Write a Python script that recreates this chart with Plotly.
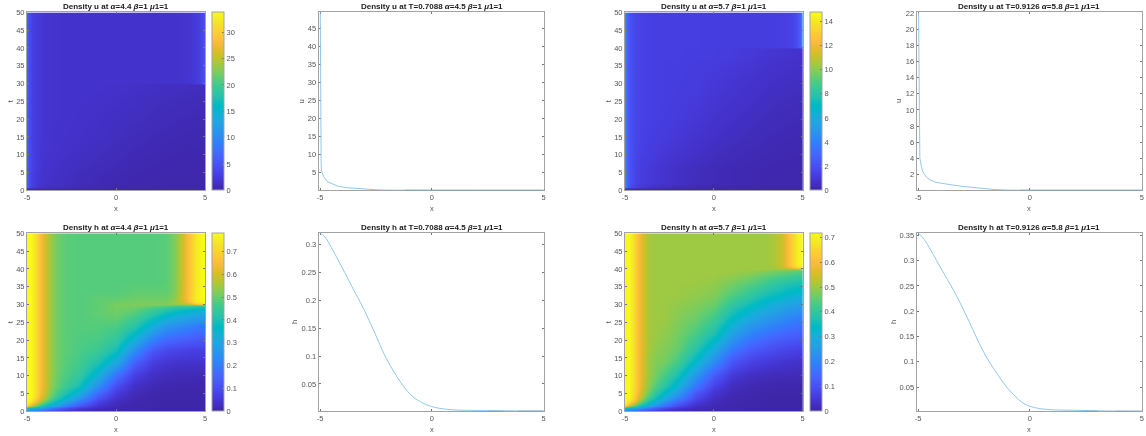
import plotly.graph_objects as go

W, H = 1146, 436

parula = [[0.2422,0.1504,0.6603],[0.2504,0.1650,0.7076],[0.2578,0.1818,0.7511],[0.2647,0.1978,0.7952],[0.2706,0.2147,0.8364],[0.2751,0.2342,0.8710],[0.2783,0.2559,0.8991],[0.2803,0.2782,0.9221],[0.2813,0.3006,0.9414],[0.2810,0.3228,0.9579],[0.2795,0.3447,0.9717],[0.2760,0.3667,0.9829],[0.2699,0.3892,0.9906],[0.2602,0.4123,0.9952],[0.2440,0.4358,0.9988],[0.2206,0.4603,0.9973],[0.1963,0.4847,0.9892],[0.1834,0.5074,0.9798],[0.1786,0.5289,0.9682],[0.1764,0.5499,0.9520],[0.1687,0.5703,0.9359],[0.1540,0.5902,0.9218],[0.1460,0.6091,0.9079],[0.1380,0.6276,0.8973],[0.1248,0.6459,0.8883],[0.1113,0.6635,0.8763],[0.0952,0.6798,0.8598],[0.0689,0.6948,0.8394],[0.0297,0.7082,0.8163],[0.0036,0.7203,0.7917],[0.0067,0.7312,0.7660],[0.0433,0.7411,0.7394],[0.0964,0.7500,0.7120],[0.1408,0.7584,0.6842],[0.1717,0.7670,0.6554],[0.1938,0.7758,0.6251],[0.2161,0.7843,0.5923],[0.2470,0.7918,0.5567],[0.2906,0.7973,0.5188],[0.3406,0.8008,0.4789],[0.3909,0.8029,0.4354],[0.4456,0.8024,0.3909],[0.5044,0.7993,0.3480],[0.5616,0.7942,0.3045],[0.6174,0.7876,0.2612],[0.6720,0.7793,0.2227],[0.7242,0.7698,0.1910],[0.7738,0.7598,0.1646],[0.8203,0.7498,0.1535],[0.8634,0.7406,0.1596],[0.9035,0.7330,0.1774],[0.9393,0.7288,0.2100],[0.9728,0.7298,0.2394],[0.9956,0.7434,0.2371],[0.9970,0.7659,0.2199],[0.9952,0.7893,0.2028],[0.9892,0.8136,0.1885],[0.9786,0.8386,0.1766],[0.9676,0.8639,0.1643],[0.9610,0.8890,0.1537],[0.9597,0.9135,0.1423],[0.9628,0.9373,0.1265],[0.9691,0.9606,0.1064],[0.9769,0.9839,0.0805]]
colorscale = [[i / (len(parula) - 1), f"rgb({c[0]*255:.0f},{c[1]*255:.0f},{c[2]*255:.0f})"] for i, c in enumerate(parula)]

# ---------- density u maps ----------
u_x = [-5,-4.93,-4.83,-4.68,-4.45,-4.1,-3.6,-3,-2.1,-1,0,1,2.1,3,3.6,4.1,4.45,4.68,4.83,4.93,5]

u1_t = [0,.25,.45,.65,.85,1.2,2,3.5,6,10,15,20,25,28,29.2,29.7,29.9,30.1,30.3,30.7,31.5,33,36,50]
u1_bottom = [.7,.65,.55,.5,.45,.4,.35,.3,.25,.2,.15,.1,.1,.1,.1,.1,.1,.1,.1,.1,.1]
u1_r1 = [6,5,3.6,2.6,2.0,1.5,1.2,1.0,.7,.5,.35,.25,.2,.18,.15,.15,.15,.15,.15,.15,.15]
u1_r3 = [6,5,3.7,2.7,2.1,1.7,1.4,1.2,.85,.6,.42,.3,.24,.2,.2,.2,.2,.2,.2,.2,.2]
u1_r6 = [6,5,3.8,2.9,2.3,1.8,1.5,1.3,1,.75,.55,.4,.3,.25,.25,.25,.25,.25,.25,.25,.25]
u1_r10 = [6,5,3.8,2.9,2.4,1.9,1.7,1.5,1.25,1,.8,.55,.45,.35,.32,.3,.3,.3,.3,.3,.3]
u1_r15 = [6,5,3.8,2.9,2.4,2.0,1.75,1.6,1.45,1.25,1.05,.8,.6,.5,.45,.42,.4,.4,.4,.4,.4]
u1_r20 = [6,5,3.8,2.9,2.4,2.0,1.8,1.7,1.55,1.4,1.2,1.05,.85,.7,.62,.58,.55,.55,.55,.55,.55]
u1_r25 = [6,5,3.8,2.9,2.4,2.0,1.8,1.7,1.6,1.5,1.4,1.25,1.05,.9,.82,.78,.75,.75,.75,.75,.75]
u1_r29 = [6,5,3.8,2.9,2.4,2.0,1.8,1.7,1.65,1.6,1.5,1.4,1.25,1.1,1.05,1,.95,.95,.95,.95,.95]
u1_top = [6,5,3.8,2.9,2.4,2.0,1.8,1.7,1.65,1.65,1.65,1.65,1.65,1.7,1.75,1.95,2.3,2.9,3.7,4.6,5.2]
u1_z = [u1_bottom,u1_bottom,u1_bottom,u1_r1,u1_r1,u1_r1,u1_r3,u1_r3,u1_r6,u1_r10,u1_r15,u1_r20,u1_r25,u1_r29,u1_r29,u1_r29,u1_r29,
        u1_top,u1_top,u1_top,u1_top,u1_top,u1_top,u1_top]

u3_t = [0,.25,.45,.65,.85,1.2,2,3.5,6,10,15,20,25,30,35,38,39.2,39.7,39.9,40.1,40.3,40.7,41.5,43,46,50]
u3_bottom = [.3,.28,.25,.22,.2,.17,.14,.12,.1,.08,.06,.05,.05,.05,.05,.05,.05,.05,.05,.05,.05]
u3_r1 = [4.8,3.4,2.4,1.7,1.3,1.0,.75,.55,.35,.25,.16,.12,.1,.08,.08,.08,.08,.08,.08,.08,.08]
u3_r5 = [4.8,3.4,2.5,1.9,1.5,1.2,1,.85,.6,.42,.28,.2,.16,.13,.12,.12,.12,.12,.12,.12,.12]
u3_r10 = [4.8,3.4,2.5,1.9,1.6,1.3,1.15,1.0,.85,.62,.45,.32,.24,.2,.17,.16,.15,.15,.15,.15,.15]
u3_r15 = [4.8,3.4,2.5,1.9,1.6,1.4,1.2,1.1,.98,.8,.62,.48,.36,.28,.24,.22,.2,.2,.2,.2,.2]
u3_r20 = [4.8,3.4,2.5,1.9,1.6,1.4,1.3,1.2,1.08,.95,.78,.62,.48,.38,.33,.3,.28,.28,.28,.28,.28]
u3_r25 = [4.8,3.4,2.5,1.9,1.6,1.4,1.3,1.25,1.15,1.05,.9,.76,.62,.5,.44,.4,.38,.38,.38,.38,.38]
u3_r30 = [4.8,3.4,2.5,1.9,1.6,1.4,1.3,1.25,1.2,1.12,1,.88,.74,.62,.56,.52,.5,.5,.5,.5,.5]
u3_r35 = [4.8,3.4,2.5,1.9,1.6,1.4,1.3,1.25,1.2,1.18,1.1,1,.9,.78,.7,.66,.62,.62,.62,.62,.62]
u3_r39 = [4.8,3.4,2.5,1.9,1.6,1.4,1.3,1.25,1.25,1.22,1.2,1.1,1,.9,.85,.8,.75,.72,.72,.72,.72]
u3_top = [4.8,3.4,2.5,1.9,1.6,1.4,1.3,1.25,1.25,1.25,1.2,1.2,1.2,1.2,1.25,1.35,1.5,1.9,2.6,3.8,5.6]
u3_z = [u3_bottom,u3_bottom,u3_bottom,u3_r1,u3_r1,u3_r1,u3_r5,u3_r5,u3_r5,u3_r10,u3_r15,u3_r20,u3_r25,u3_r30,u3_r35,u3_r39,u3_r39,u3_r39,u3_r39,
        u3_top,u3_top,u3_top,u3_top,u3_top,u3_top,u3_top]

# ---------- density h maps ----------
h_x = [-5,-4.75,-4.5,-4.25,-4,-3.7,-3.3,-2.8,-2.1,-1,0,1,2.1,2.8,3.3,3.7,4,4.25,4.5,4.75,5]

h1_t = [0,.25,.5,.75,1,1.5,2,2.75,3.75,5,7,10,13.5,17,20.5,24,27,28.8,29.6,29.9,30.1,30.4,31,32,34,37,50]
h1_z = [
 [.20,.18,.16,.14,.12,.09,.065,.04,.02,.008,.003,.001,.001,.001,.001,.001,.001,.001,.001,.001,.001],
 [.25,.23,.20,.18,.15,.12,.09,.06,.03,.01,.004,.002,.001,.001,.001,.001,.001,.001,.001,.001,.001],
 [.30,.28,.25,.23,.20,.16,.12,.08,.04,.012,.005,.002,.001,.001,.001,.001,.001,.001,.001,.001,.001],
 [.37,.34,.31,.28,.25,.20,.15,.10,.055,.018,.007,.003,.001,.001,.001,.001,.001,.001,.001,.001,.001],
 [.45,.41,.38,.34,.30,.24,.19,.13,.07,.025,.009,.003,.002,.001,.001,.001,.001,.001,.001,.001,.001],
 [.65,.55,.47,.41,.37,.32,.26,.19,.11,.04,.013,.004,.002,.001,.001,.001,.001,.001,.001,.001,.001],
 [.75,.66,.56,.48,.42,.37,.31,.24,.15,.055,.017,.005,.002,.001,.001,.001,.001,.001,.001,.001,.001],
 [.779,.74,.65,.57,.50,.44,.37,.30,.20,.08,.025,.007,.003,.001,.001,.001,.001,.001,.001,.001,.001],
 [.779,.77,.70,.62,.55,.49,.42,.35,.26,.11,.04,.011,.004,.002,.002,.002,.002,.002,.002,.002,.002],
 [.779,.775,.72,.645,.58,.52,.46,.40,.32,.16,.06,.018,.006,.003,.002,.002,.002,.002,.002,.002,.002],
 [.779,.775,.72,.655,.595,.54,.49,.45,.39,.24,.10,.03,.012,.008,.007,.006,.006,.005,.005,.005,.005],
 [.779,.775,.72,.655,.595,.545,.50,.47,.44,.33,.18,.07,.03,.02,.017,.016,.015,.015,.015,.015,.015],
 [.779,.775,.72,.655,.595,.545,.505,.48,.46,.40,.30,.14,.06,.045,.04,.038,.036,.035,.035,.035,.035],
 [.779,.775,.72,.655,.595,.545,.505,.485,.47,.45,.39,.24,.12,.09,.08,.075,.072,.07,.07,.07,.07],
 [.779,.775,.72,.655,.595,.545,.505,.485,.475,.47,.44,.34,.22,.17,.16,.15,.145,.14,.135,.13,.13],
 [.779,.775,.72,.655,.595,.545,.505,.485,.48,.48,.47,.42,.32,.26,.24,.225,.215,.205,.20,.195,.19],
 [.779,.775,.72,.655,.595,.545,.505,.485,.48,.49,.50,.47,.41,.36,.34,.325,.315,.305,.30,.295,.29],
 [.779,.775,.72,.655,.595,.545,.505,.485,.48,.49,.51,.50,.46,.43,.41,.40,.39,.385,.38,.375,.37],
 [.779,.775,.72,.655,.595,.545,.505,.485,.48,.49,.51,.51,.49,.47,.45,.44,.435,.43,.425,.42,.42],
 [.779,.775,.72,.655,.595,.545,.505,.485,.48,.49,.51,.51,.50,.49,.48,.48,.48,.47,.47,.47,.47],
 [.779,.775,.72,.655,.595,.545,.505,.485,.48,.49,.51,.52,.52,.52,.53,.54,.55,.58,.62,.66,.68],
 [.779,.775,.72,.655,.595,.545,.505,.485,.48,.49,.51,.51,.52,.52,.54,.57,.60,.65,.70,.73,.74],
 [.779,.775,.72,.655,.595,.545,.505,.485,.48,.49,.50,.51,.51,.51,.54,.59,.64,.70,.745,.765,.775],
 [.779,.775,.72,.655,.595,.545,.505,.485,.48,.49,.49,.50,.50,.50,.53,.60,.65,.71,.75,.77,.779],
 [.779,.775,.72,.655,.595,.545,.505,.485,.48,.48,.48,.49,.49,.49,.52,.59,.65,.70,.75,.77,.779],
 [.779,.775,.72,.655,.595,.545,.505,.485,.48,.48,.48,.48,.48,.485,.52,.585,.645,.695,.745,.77,.779],
 [.779,.775,.72,.655,.595,.545,.505,.485,.48,.48,.48,.48,.48,.485,.52,.585,.645,.695,.745,.77,.779],
]

h3_t = [0,.25,.5,.75,1,1.5,2,2.75,3.75,5,7,10,14,18,22,26,30,33,36,38,39.3,39.7,39.9,40.1,40.4,41,42,44,50]
h3_z = [
 [.18,.16,.14,.12,.10,.075,.05,.03,.015,.005,.002,.001,.001,.001,.001,.001,.001,.001,.001,.001,.001],
 [.22,.20,.17,.15,.13,.10,.07,.045,.022,.007,.003,.002,.001,.001,.001,.001,.001,.001,.001,.001,.001],
 [.26,.24,.21,.18,.16,.13,.095,.06,.03,.01,.004,.002,.001,.001,.001,.001,.001,.001,.001,.001,.001],
 [.32,.29,.26,.23,.20,.16,.12,.08,.04,.014,.005,.002,.001,.001,.001,.001,.001,.001,.001,.001,.001],
 [.40,.36,.32,.29,.25,.20,.15,.10,.05,.018,.007,.003,.001,.001,.001,.001,.001,.001,.001,.001,.001],
 [.60,.50,.41,.36,.32,.27,.21,.15,.08,.025,.01,.004,.002,.001,.001,.001,.001,.001,.001,.001,.001],
 [.69,.60,.51,.43,.37,.32,.26,.19,.11,.04,.013,.005,.002,.001,.001,.001,.001,.001,.001,.001,.001],
 [.716,.68,.60,.51,.44,.38,.31,.24,.15,.06,.018,.006,.003,.001,.001,.001,.001,.001,.001,.001,.001],
 [.716,.70,.64,.56,.49,.42,.36,.29,.20,.08,.025,.008,.004,.002,.001,.001,.001,.001,.001,.001,.001],
 [.716,.71,.65,.585,.52,.46,.40,.33,.25,.11,.04,.012,.006,.003,.002,.002,.002,.002,.002,.002,.002],
 [.716,.71,.66,.60,.54,.49,.44,.39,.31,.17,.07,.02,.01,.007,.006,.006,.005,.005,.005,.005,.005],
 [.716,.71,.66,.60,.55,.50,.47,.43,.37,.24,.12,.05,.025,.02,.017,.016,.015,.015,.015,.015,.015],
 [.716,.71,.66,.60,.55,.50,.48,.47,.43,.33,.22,.11,.07,.055,.05,.045,.04,.04,.035,.035,.035],
 [.716,.71,.66,.60,.55,.51,.49,.48,.46,.39,.30,.19,.13,.11,.10,.09,.085,.08,.08,.075,.075],
 [.716,.71,.66,.60,.55,.51,.50,.49,.47,.43,.37,.27,.20,.175,.16,.15,.145,.14,.135,.13,.125],
 [.716,.71,.66,.60,.55,.51,.50,.50,.48,.46,.42,.34,.28,.25,.235,.22,.21,.20,.195,.19,.185],
 [.716,.71,.66,.60,.55,.51,.50,.50,.49,.48,.46,.40,.35,.32,.30,.29,.28,.27,.265,.26,.255],
 [.716,.71,.66,.60,.55,.51,.50,.50,.50,.49,.48,.44,.40,.37,.355,.345,.335,.325,.32,.315,.31],
 [.716,.71,.66,.60,.55,.51,.50,.50,.50,.50,.49,.47,.44,.42,.40,.39,.38,.375,.37,.365,.36],
 [.716,.71,.66,.60,.55,.51,.50,.50,.50,.50,.50,.49,.47,.45,.44,.43,.425,.42,.415,.41,.405],
 [.716,.71,.66,.60,.55,.51,.50,.50,.50,.50,.50,.50,.49,.48,.47,.465,.46,.455,.45,.445,.44],
 [.716,.71,.66,.60,.55,.51,.50,.50,.50,.50,.50,.50,.50,.49,.48,.48,.475,.47,.47,.465,.46],
 [.716,.71,.66,.60,.55,.51,.50,.50,.50,.50,.50,.50,.50,.50,.49,.49,.49,.485,.48,.48,.475],
 [.716,.71,.66,.60,.55,.51,.50,.50,.50,.50,.50,.50,.50,.50,.50,.51,.52,.54,.57,.60,.62],
 [.716,.71,.66,.60,.55,.51,.50,.50,.50,.50,.50,.50,.50,.50,.50,.52,.55,.58,.62,.66,.68],
 [.716,.71,.66,.60,.55,.51,.50,.50,.50,.50,.50,.50,.50,.50,.51,.53,.57,.61,.66,.69,.705],
 [.716,.71,.66,.60,.55,.51,.50,.50,.50,.50,.50,.50,.50,.50,.51,.53,.57,.61,.66,.70,.716],
 [.716,.71,.66,.60,.55,.51,.50,.50,.50,.50,.50,.50,.50,.50,.51,.53,.57,.61,.66,.70,.716],
 [.716,.71,.66,.60,.55,.51,.50,.50,.50,.50,.50,.50,.50,.50,.51,.53,.57,.61,.66,.70,.716],
]

# ---------- profiles ----------
u2_x = [-5,-4.985,-4.97,-4.95,-4.93,-4.85,-4.66,-4.4,-4.18,-3.8,-3.36,-3,-2.5,-2,-1.5,-1,0,2,5]
u2_y = [60,30,15,7,5.5,4,2.5,1.7,1.2,.85,.6,.45,.28,.18,.14,.125,.12,.12,.12]
u2_tail_x = [-1.2,5]
u2_tail_y = [.12,.12]

h2_x = [-5,-4.9,-4.8,-4.65,-4.5,-4.2,-3.9,-3.5,-3.18,-2.9,-2.6,-2.35,-2.09,-1.7,-1.34,-1,-.75,-.5,-.25,0,.25,.5,1,2,3,5]
h2_y = [.32,.318,.314,.306,.295,.273,.25,.219,.195,.172,.146,.123,.1,.072,.05,.033,.024,.018,.013,.0095,.007,.0055,.0035,.0025,.002,.0015]
h2_tail_x = [2.46,3.2,None,3.9,5]
h2_tail_y = [.001,.001,None,.001,.001]

u4_x = [-5,-4.985,-4.96,-4.94,-4.92,-4.85,-4.8,-4.7,-4.5,-4.2,-4,-3.5,-3,-2.5,-2,-1.5,-1,0,5]
u4_y = [30,23,15,8,4,3,2.4,1.9,1.35,1,.9,.7,.5,.35,.2,.1,.05,.02,.02]
u4_tail_x = [-.43,5]
u4_tail_y = [.02,.02]

h4_x = [-5,-4.9,-4.8,-4.65,-4.5,-4.17,-3.85,-3.52,-3.25,-2.97,-2.7,-2.41,-2.1,-1.79,-1.4,-1.04,-.75,-.5,-.25,0,.25,.5,1,2,3,5]
h4_y = [.354,.351,.346,.337,.326,.3,.275,.25,.228,.203,.178,.15,.122,.098,.072,.05,.036,.025,.017,.012,.009,.007,.005,.004,.003,.002]
h4_tail_x = [2.4,3.07,None,3.85,5]
h4_tail_y = [.002,.002,None,.002,.002]

titles = [
 "Density u at <i>α</i>=4.4 <i>β</i>=1 <i>μ</i>1=1",
 "Density u at T=0.7088 <i>α</i>=4.5 <i>β</i>=1 <i>μ</i>1=1",
 "Density u at <i>α</i>=5.7 <i>β</i>=1 <i>μ</i>1=1",
 "Density u at T=0.9126 <i>α</i>=5.8 <i>β</i>=1 <i>μ</i>1=1",
 "Density h at <i>α</i>=4.4 <i>β</i>=1 <i>μ</i>1=1",
 "Density h at T=0.7088 <i>α</i>=4.5 <i>β</i>=1 <i>μ</i>1=1",
 "Density h at <i>α</i>=5.7 <i>β</i>=1 <i>μ</i>1=1",
 "Density h at T=0.9126 <i>α</i>=5.8 <i>β</i>=1 <i>μ</i>1=1",
]

TXT = "#555555"
FRAME = "#a3a3a3"
FONT = "Liberation Sans"

top = (12.4, 190.3)
bot = (233.3, 411.3)
boxes = [
 (27, 205, top), (318.7, 544.3, top), (625, 802.7, top), (916.7, 1142, top),
 (27, 205, bot), (318.7, 544.3, bot), (625, 802.7, bot), (916.7, 1142, bot),
]

fig = go.Figure()
layout = dict(width=W, height=H, margin=dict(l=0, r=0, t=0, b=0, autoexpand=False),
              paper_bgcolor="white", plot_bgcolor="white", showlegend=False,
              font=dict(family=FONT, size=8, color=TXT))
annotations = []

heat = {
 0: (u_x, u1_t, u1_z, 33.75, [0,5,10,15,20,25,30], 212),
 2: (u_x, u3_t, u3_z, 14.75, [0,2,4,6,8,10,12,14], 810),
 4: (h_x, h1_t, h1_z, 0.779, [0,.1,.2,.3,.4,.5,.6,.7], 212),
 6: (h_x, h3_t, h3_z, 0.716, [0,.1,.2,.3,.4,.5,.6,.7], 810),
}
lines = {
 1: (u2_x, u2_y, [0.12, 49.5], [5,10,15,20,25,30,35,40,45], [-5.06, 5.036], "u", "linear", u2_tail_x, u2_tail_y),
 3: (u4_x, u4_y, [0.02, 22.1], [2,4,6,8,10,12,14,16,18,20,22], [-5.06, 5.013], "u", "linear", u4_tail_x, u4_tail_y),
 5: (h2_x, h2_y, [0.001, 0.32], [.05,.1,.15,.2,.25,.3], [-5.06, 5.036], "h", "spline", h2_tail_x, h2_tail_y),
 7: (h4_x, h4_y, [0.002, 0.354], [.05,.1,.15,.2,.25,.3,.35], [-5.06, 5.013], "h", "spline", h4_tail_x, h4_tail_y),
}

for i, (x0, x1, (y0, y1)) in enumerate(boxes):
    s = "" if i == 0 else str(i + 1)
    xk, yk = f"x{s}", f"y{s}"
    common = dict(showgrid=False, zeroline=False, showline=True, linecolor=FRAME, linewidth=1,
                  mirror="allticks", ticks="inside", ticklen=2, tickwidth=0.6, tickcolor="#777777",
                  tickfont=dict(family=FONT, size=7.5, color=TXT))
    if i in heat:
        xs, ts, zs, zmax, cticks, cx = heat[i]
        fig.add_trace(go.Heatmap(
            x=xs, y=ts, z=zs, zmin=0, zmax=zmax, zsmooth="best", colorscale=colorscale,
            xaxis=xk, yaxis=yk,
            colorbar=dict(x=cx / W, xanchor="left", xpad=0, ypad=0, y=1 - y0 / H, yanchor="top",
                          lenmode="pixels", len=y1 - y0, thicknessmode="pixels", thickness=11.5,
                          outlinecolor=FRAME, outlinewidth=1, tickvals=cticks,
                          ticktext=[str(v) for v in cticks], ticks="inside", ticklen=2,
                          tickwidth=0.6, tickcolor="#777777",
                          tickfont=dict(family=FONT, size=7.5, color=TXT))))
        xrange = [-5, 5]
        yrange = [0, 50]
        yticks = list(range(0, 55, 5))
        ylab = "t"
        ylab_x = x0 - 17
        layer = "above traces"
    else:
        lx, ly, yrange, yticks, xrange, ylab, shape, tx, ty = lines[i]
        fig.add_trace(go.Scatter(x=lx, y=ly, mode="lines", xaxis=xk, yaxis=yk,
                                 line=dict(color="#86c1ea", width=0.9, shape=shape, smoothing=1.0)))
        fig.add_trace(go.Scatter(x=tx, y=ty, mode="lines", xaxis=xk, yaxis=yk, cliponaxis=False,
                                 line=dict(color="#5b8fae", width=1.0)))
        ylab_x = {1: x0 - 17.5, 3: x0 - 18, 5: x0 - 24, 7: x0 - 23}[i]
        layer = "below traces"
    key = "xaxis" + s
    layout[key] = dict(domain=[x0 / W, x1 / W], range=xrange, tickvals=[-5, 0, 5], ticktext=["-5", "0", "5"],
                       anchor=yk, layer=layer, **common)
    layout["yaxis" + s] = dict(domain=[1 - y1 / H, 1 - y0 / H], range=yrange, tickvals=yticks,
                               ticktext=[str(v) for v in yticks], anchor=xk, layer=layer, **common)
    mid = (x0 + x1) / 2
    annotations.append(dict(text=f"<b>{titles[i]}</b>", x=mid / W, y=1 - (y0 - 5.5) / H, xref="paper", yref="paper",
                            xanchor="center", yanchor="middle", showarrow=False,
                            font=dict(family=FONT, size=8, color="#1a1a1a")))
    annotations.append(dict(text="x", x=mid / W, y=1 - (y1 + 18.3) / H, xref="paper", yref="paper",
                            xanchor="center", yanchor="middle", showarrow=False,
                            font=dict(family=FONT, size=7.5, color=TXT)))
    annotations.append(dict(text=ylab, x=ylab_x / W, y=1 - ((y0 + y1) / 2) / H, xref="paper", yref="paper",
                            xanchor="center", yanchor="middle", textangle=-90, showarrow=False,
                            font=dict(family=FONT, size=7.5, color=TXT)))

layout["annotations"] = annotations
fig.update_layout(**layout)
fig.write_html("out.html", config={"displayModeBar": False},
               post_script="document.body.style.margin='0';document.documentElement.style.overflow='hidden';document.body.style.filter='blur(0.3px)';")
